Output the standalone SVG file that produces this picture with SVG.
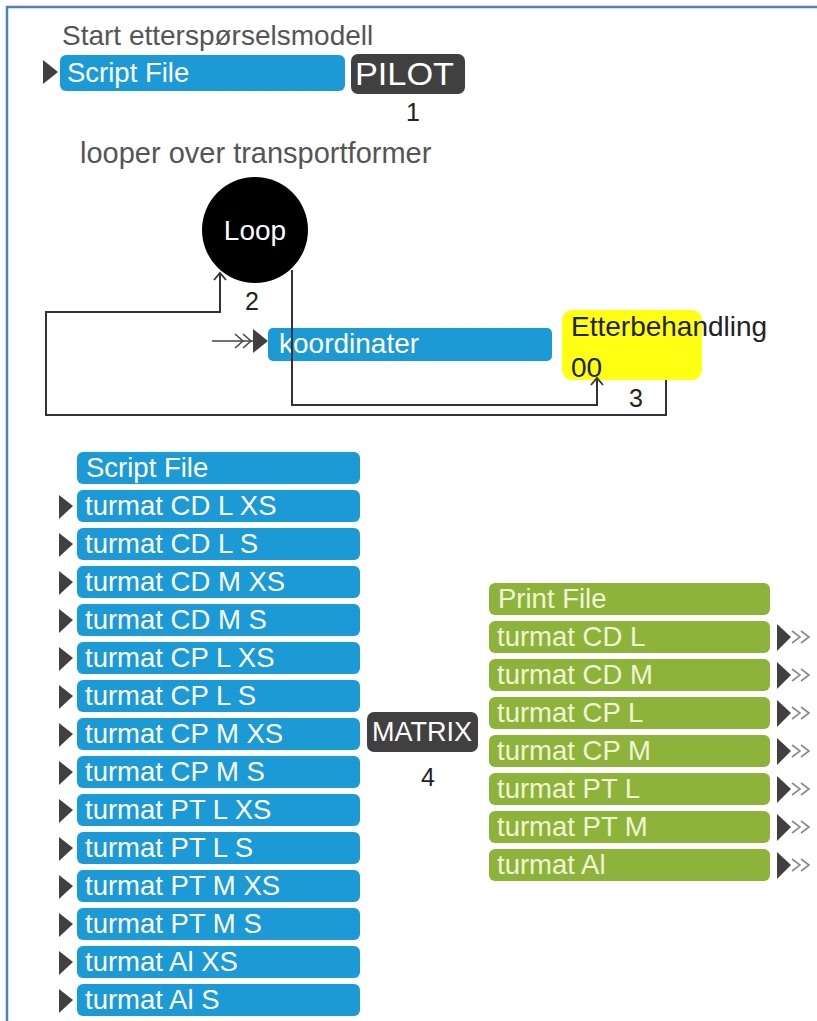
<svg xmlns="http://www.w3.org/2000/svg" width="817" height="1021" viewBox="0 0 817 1021">
<style>
text{font-family:"Liberation Sans",Arial,sans-serif;}
.lbl{font-size:28px;fill:#555;}
.blue{fill:#1b9ad6;}
.green{fill:#8db33b;}
.dark{fill:#404040;}
.wt{font-size:27.5px;fill:#fff;}
.gt{font-size:27.5px;fill:#f1f5d6;}
.num{font-size:25px;fill:#222;text-anchor:middle;}
.tri{fill:#404040;}
.conn{fill:none;stroke:#333;stroke-width:2;}
.chev{fill:none;stroke:#8a8a8a;stroke-width:1.6;}
.chevd{fill:none;stroke:#444;stroke-width:1.5;}
</style>
<defs>
<marker id="open" markerUnits="userSpaceOnUse" markerWidth="20" markerHeight="20" viewBox="-10 -10 20 20" refX="0" refY="0" orient="auto">
<path d="M-7,-6 L0,0 L-7,6" fill="none" stroke="#333" stroke-width="1.8"/>
</marker>
</defs>
<rect width="817" height="1021" fill="#fff"/>
<g id="frame"><path d="M7,1021 V7 H817" fill="none" stroke="#4f81bd" stroke-width="2.5"/></g>

<g id="title1"><text class="lbl" x="62" y="45">Start etterspørselsmodell</text></g>
<g id="scriptfile-top">
<polygon class="tri" points="43,60 58,72 43,84"/>
<rect class="blue" x="60" y="55" width="285" height="36" rx="6"/>
<text class="wt" x="67" y="82">Script File</text>
</g>
<g id="pilot">
<rect class="dark" x="351" y="54" width="114" height="40" rx="7"/>
<text x="355" y="85" font-size="31" fill="#fff" textLength="99" lengthAdjust="spacingAndGlyphs">PILOT</text>
<text class="num" x="413" y="121">1</text>
</g>

<g id="title2"><text x="80" y="163" font-size="29" fill="#555">looper over transportformer</text></g>
<g id="loop">
<circle cx="255" cy="230" r="53" fill="#000"/>
<text x="255" y="240" font-size="28" fill="#fff" text-anchor="middle">Loop</text>
<text class="num" x="252" y="310">2</text>
</g>
<g id="koordinater">
<rect class="blue" x="268" y="328" width="284" height="33" rx="5"/>
<text x="279" y="353" font-size="28" fill="#fff">koordinater</text>
</g>
<g id="etterbehandling">
<rect x="562" y="310" width="140" height="70" rx="10" fill="#ffff14"/>
<text x="571" y="336" font-size="28" fill="#222">Etterbehandling</text>
<text x="571" y="377" font-size="28" fill="#222">00</text>
<text class="num" x="636" y="407">3</text>
</g>

<g id="connectors">
<path class="conn" d="M292,270 V405 H597 V378" marker-end="url(#open)"/>
<path class="conn" d="M666,380 V415 H46 V312 H220 V273" marker-end="url(#open)"/>
<line x1="212" y1="341" x2="254" y2="341" stroke="#444" stroke-width="1.5"/>
<path class="chevd" d="M235,334 L243,341 L235,348 M243,334 L251,341 L243,348"/>
<polygon class="tri" points="253,329 268,341 253,353"/>
</g>

<g id="scriptfile-list">
<rect class="blue" x="77" y="452" width="283" height="32" rx="6"/><text class="wt" x="86" y="477">Script File</text>
<polygon class="tri" points="59,495 73,506 59,519"/><rect class="blue" x="77" y="490" width="283" height="32" rx="6"/><text class="wt" x="85" y="515">turmat CD L XS</text>
<polygon class="tri" points="59,533 73,544 59,557"/><rect class="blue" x="77" y="528" width="283" height="32" rx="6"/><text class="wt" x="85" y="553">turmat CD L S</text>
<polygon class="tri" points="59,571 73,582 59,595"/><rect class="blue" x="77" y="566" width="283" height="32" rx="6"/><text class="wt" x="85" y="591">turmat CD M XS</text>
<polygon class="tri" points="59,609 73,620 59,633"/><rect class="blue" x="77" y="604" width="283" height="32" rx="6"/><text class="wt" x="85" y="629">turmat CD M S</text>
<polygon class="tri" points="59,647 73,658 59,671"/><rect class="blue" x="77" y="642" width="283" height="32" rx="6"/><text class="wt" x="85" y="667">turmat CP L XS</text>
<polygon class="tri" points="59,685 73,696 59,709"/><rect class="blue" x="77" y="680" width="283" height="32" rx="6"/><text class="wt" x="85" y="705">turmat CP L S</text>
<polygon class="tri" points="59,723 73,734 59,747"/><rect class="blue" x="77" y="718" width="283" height="32" rx="6"/><text class="wt" x="85" y="743">turmat CP M XS</text>
<polygon class="tri" points="59,761 73,772 59,785"/><rect class="blue" x="77" y="756" width="283" height="32" rx="6"/><text class="wt" x="85" y="781">turmat CP M S</text>
<polygon class="tri" points="59,799 73,810 59,823"/><rect class="blue" x="77" y="794" width="283" height="32" rx="6"/><text class="wt" x="85" y="819">turmat PT L XS</text>
<polygon class="tri" points="59,837 73,848 59,861"/><rect class="blue" x="77" y="832" width="283" height="32" rx="6"/><text class="wt" x="85" y="857">turmat PT L S</text>
<polygon class="tri" points="59,875 73,886 59,899"/><rect class="blue" x="77" y="870" width="283" height="32" rx="6"/><text class="wt" x="85" y="895">turmat PT M XS</text>
<polygon class="tri" points="59,913 73,924 59,937"/><rect class="blue" x="77" y="908" width="283" height="32" rx="6"/><text class="wt" x="85" y="933">turmat PT M S</text>
<polygon class="tri" points="59,951 73,962 59,975"/><rect class="blue" x="77" y="946" width="283" height="32" rx="6"/><text class="wt" x="85" y="971">turmat Al XS</text>
<polygon class="tri" points="59,989 73,1000 59,1013"/><rect class="blue" x="77" y="984" width="283" height="32" rx="6"/><text class="wt" x="85" y="1009">turmat Al S</text>
</g>

<g id="matrix">
<rect class="dark" x="367" y="712" width="111" height="40" rx="7"/>
<text x="372" y="741" font-size="27" fill="#fff">MATRIX</text>
<text class="num" x="428" y="786">4</text>
</g>

<g id="printfile-list">
<rect class="green" x="489" y="583" width="281" height="32" rx="6"/><text class="gt" x="498" y="608">Print File</text>
<rect class="green" x="489" y="621" width="281" height="32" rx="6"/><text class="gt" x="497" y="646">turmat CD L</text>
<rect class="green" x="489" y="659" width="281" height="32" rx="6"/><text class="gt" x="497" y="684">turmat CD M</text>
<rect class="green" x="489" y="697" width="281" height="32" rx="6"/><text class="gt" x="497" y="722">turmat CP L</text>
<rect class="green" x="489" y="735" width="281" height="32" rx="6"/><text class="gt" x="497" y="760">turmat CP M</text>
<rect class="green" x="489" y="773" width="281" height="32" rx="6"/><text class="gt" x="497" y="798">turmat PT L</text>
<rect class="green" x="489" y="811" width="281" height="32" rx="6"/><text class="gt" x="497" y="836">turmat PT M</text>
<rect class="green" x="489" y="849" width="281" height="32" rx="6"/><text class="gt" x="497" y="874">turmat Al</text>
<g id="outputs">
<polygon class="tri" points="777,624 791,637 777,651"/><path class="chev" d="M792,631 L800,637 L792,643 M801,631 L809,637 L801,643"/>
<polygon class="tri" points="777,662 791,675 777,689"/><path class="chev" d="M792,669 L800,675 L792,681 M801,669 L809,675 L801,681"/>
<polygon class="tri" points="777,700 791,713 777,727"/><path class="chev" d="M792,707 L800,713 L792,719 M801,707 L809,713 L801,719"/>
<polygon class="tri" points="777,738 791,751 777,765"/><path class="chev" d="M792,745 L800,751 L792,757 M801,745 L809,751 L801,757"/>
<polygon class="tri" points="777,776 791,789 777,803"/><path class="chev" d="M792,783 L800,789 L792,795 M801,783 L809,789 L801,795"/>
<polygon class="tri" points="777,814 791,827 777,841"/><path class="chev" d="M792,821 L800,827 L792,833 M801,821 L809,827 L801,833"/>
<polygon class="tri" points="777,852 791,865 777,879"/><path class="chev" d="M792,859 L800,865 L792,871 M801,859 L809,865 L801,871"/>
</g>
</g>
</svg>
